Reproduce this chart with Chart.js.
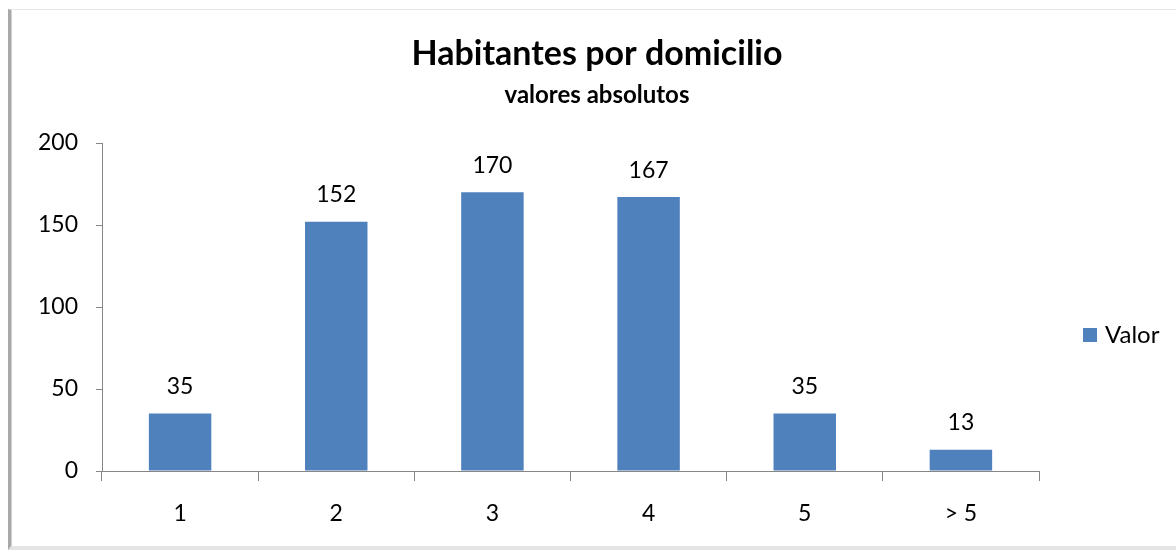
<!DOCTYPE html>
<html>
<head>
<meta charset="utf-8">
<script src="https://cdn.jsdelivr.net/npm/chart.js@4.4.0/dist/chart.umd.min.js"></script>
<style>
  html, body { margin: 0; padding: 0; background: #ffffff; }
  #wrap { position: relative; width: 1176px; height: 551px; overflow: hidden; }
  #frame {
    position: absolute; left: 8px; top: 9px; width: 1170px; height: 536px;
    border-top: 1px solid #e6e6e6;
    border-left: 3px solid #a8a8a8;
    border-bottom: 4px solid #e4e4e4;
    box-shadow: inset 1px 0 0 #d0d0d0;
  }
  canvas { position: absolute; left: 0; top: 0; }
</style>
</head>
<body>
<div id="wrap">
  <div id="frame"></div>
  <canvas id="c" width="1176" height="551"></canvas>
</div>
<script>
const categories = ['1', '2', '3', '4', '5', '> 5'];
const values = [35, 152, 170, 167, 35, 13];
const seriesName = 'Valor';
const yTicks = [0, 50, 100, 150, 200];

const barColor = '#4F81BD';
const axisColor = '#868686';
const FONT = 'Lato, "Noto Sans", sans-serif';

const dataLabels = {
  id: 'dataLabels',
  afterDatasetsDraw(chart) {
    const ctx = chart.ctx;
    const meta = chart.getDatasetMeta(0);
    ctx.save();
    ctx.font = '23px ' + FONT;
    ctx.fillStyle = '#000';
    ctx.textAlign = 'center';
    ctx.textBaseline = 'middle';
    meta.data.forEach((bar, i) => {
      ctx.fillText(String(chart.data.datasets[0].data[i]), bar.x, bar.y - 27);
    });
    ctx.restore();
  }
};

const sideLegend = {
  id: 'sideLegend',
  afterDraw(chart) {
    const ctx = chart.ctx;
    const area = chart.chartArea;
    const ds = chart.data.datasets[0];
    const x = area.right + 44;
    const y = 335;
    ctx.save();
    ctx.fillStyle = ds.backgroundColor;
    ctx.fillRect(x, y - 7, 14, 14);
    ctx.font = '24px ' + FONT;
    ctx.fillStyle = '#000';
    ctx.textAlign = 'left';
    ctx.textBaseline = 'middle';
    ctx.fillText(ds.label, x + 22, y);
    ctx.restore();
  }
};

new Chart(document.getElementById('c'), {
  type: 'bar',
  data: {
    labels: categories,
    datasets: [{
      label: seriesName,
      data: values,
      backgroundColor: barColor,
      borderWidth: 0,
      categoryPercentage: 1.0,
      barPercentage: 0.4
    }]
  },
  options: {
    responsive: false,
    animation: false,
    devicePixelRatio: 1,
    layout: { padding: { left: 18, right: 0, top: 0, bottom: 0 } },
    plugins: {
      legend: { display: false },
      tooltip: { enabled: false },
      title: {
        display: true,
        text: 'Habitantes por domicilio',
        color: '#000',
        font: { family: FONT, size: 34, weight: 'bold', lineHeight: 1 },
        padding: { top: 37, bottom: 0 }
      },
      subtitle: {
        display: true,
        text: 'valores absolutos',
        color: '#000',
        font: { family: FONT, size: 24, weight: 'bold', lineHeight: 1 },
        padding: { top: 12, bottom: 36 }
      }
    },
    scales: {
      x: {
        grid: {
          offset: true,
          drawOnChartArea: false,
          drawTicks: true,
          tickLength: 10,
          color: axisColor
        },
        border: { display: true, color: axisColor, width: 1 },
        ticks: {
          color: '#000',
          font: { family: FONT, size: 23 },
          padding: 19,
          maxRotation: 0
        },
        afterFit(scale) { scale.height = 80; }
      },
      y: {
        min: 0,
        max: 200,
        afterBuildTicks(scale) { scale.ticks = yTicks.map(v => ({ value: v })); },
        grid: {
          drawOnChartArea: false,
          drawTicks: true,
          tickLength: 6,
          color: axisColor
        },
        border: { display: true, color: axisColor, width: 1 },
        ticks: {
          color: '#000',
          font: { family: FONT, size: 23 },
          padding: 18
        },
        afterFit(scale) { scale.width = 84; }
      },
      legendSpace: {
        type: 'linear',
        position: 'right',
        display: true,
        grid: { display: false },
        border: { display: false },
        ticks: { display: false },
        afterFit(scale) { scale.width = 137; }
      }
    }
  },
  plugins: [dataLabels, sideLegend]
});
</script>
</body>
</html>
